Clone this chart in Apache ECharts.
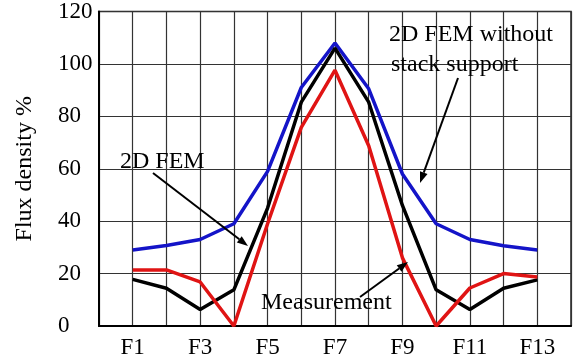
<!DOCTYPE html>
<html>
<head>
<meta charset="utf-8">
<script src="https://cdn.jsdelivr.net/npm/echarts@6/dist/echarts.min.js"></script>
<style>
  html, body { margin: 0; padding: 0; background: #fff; }
  #main { width: 578px; height: 362px; }
</style>
</head>
<body>
<div id="main"></div>
<script>
var categories = ['F1','F2','F3','F4','F5','F6','F7','F8','F9','F10','F11','F12','F13'];
var withoutStack = [29, 30.7, 33, 39, 59, 91, 108, 90.5, 58, 39, 33, 30.6, 29];
var fem2d = [17.8, 14.4, 6.3, 13.8, 45, 85.4, 106, 85.4, 46, 13.8, 6.3, 14.4, 17.6];
var measurement = [21.4, 21.4, 16.8, 0, 39, 75.8, 97.6, 68.8, 26, 0, 14.5, 20, 18.7];
var yTicks = [0, 20, 40, 60, 80, 100, 120];

var font = 'Liberation Serif';
var chart = echarts.init(document.getElementById('main'));

function toPoints(arr) {
  return arr.map(function (v, i) { return [i + 1, v]; });
}

function arrow(x1, y1, x2, y2) {
  var ang = Math.atan2(y2 - y1, x2 - x1);
  var len = 11, half = 4;
  var bx = x2 - len * Math.cos(ang), by = y2 - len * Math.sin(ang);
  var px = -Math.sin(ang) * half, py = Math.cos(ang) * half;
  return [
    { type: 'line', shape: { x1: x1, y1: y1, x2: bx, y2: by }, style: { stroke: '#000', lineWidth: 2 }, z: 100 },
    { type: 'polygon', shape: { points: [[x2, y2], [bx + px, by + py], [bx - px, by - py]] }, style: { fill: '#000' }, z: 100 }
  ];
}

function label(text, x, y) {
  return { type: 'text', x: x, y: y, z: 100,
    style: { text: text, font: '24px "' + font + '"', fill: '#000', textVerticalAlign: 'middle' } };
}

var graphics = [
  label('2D FEM', 120, 162),
  label('2D FEM without', 389, 35),
  label('stack support', 391, 65),
  label('Measurement', 261, 303)
].concat(arrow(153, 173, 248, 246))
 .concat(arrow(458, 78, 420, 183))
 .concat(arrow(360, 297, 408, 262));

var option = {
  animation: false,
  grid: { left: 99, right: 7, top: 5, bottom: 36, show: true, borderColor: '#222', borderWidth: 1.5 },
  xAxis: {
    type: 'value',
    min: 0, max: 14, interval: 1,
    axisLine: { show: true, lineStyle: { color: '#000', width: 2 } },
    axisTick: { show: false },
    splitLine: { show: true, lineStyle: { color: '#333', width: 1.2 } },
    axisLabel: {
      margin: 10,
      fontFamily: font, fontSize: 23, color: '#000',
      formatter: function (v) {
        return (v % 2 === 1 && v >= 1 && v <= 13) ? categories[v - 1] : '';
      }
    }
  },
  yAxis: {
    type: 'value',
    min: yTicks[0], max: yTicks[yTicks.length - 1], interval: 20,
    name: 'Flux density %',
    nameLocation: 'middle',
    nameGap: 62,
    nameTextStyle: { fontFamily: font, fontSize: 24, color: '#000' },
    axisLine: { show: true, lineStyle: { color: '#000', width: 2 } },
    axisTick: { show: false },
    splitLine: { show: true, lineStyle: { color: '#333', width: 1.2 } },
    axisLabel: { align: 'left', margin: 41, fontFamily: font, fontSize: 23, color: '#000' }
  },
  series: [
    { name: '2D FEM without stack support', type: 'line', data: toPoints(withoutStack),
      symbol: 'none', lineStyle: { color: '#1414c8', width: 3.5 } },
    { name: '2D FEM', type: 'line', data: toPoints(fem2d),
      symbol: 'none', lineStyle: { color: '#000', width: 3.5 } },
    { name: 'Measurement', type: 'line', data: toPoints(measurement),
      symbol: 'none', lineStyle: { color: '#e01414', width: 3.5 } }
  ],
  graphic: graphics
};
chart.setOption(option);
</script>
</body>
</html>
